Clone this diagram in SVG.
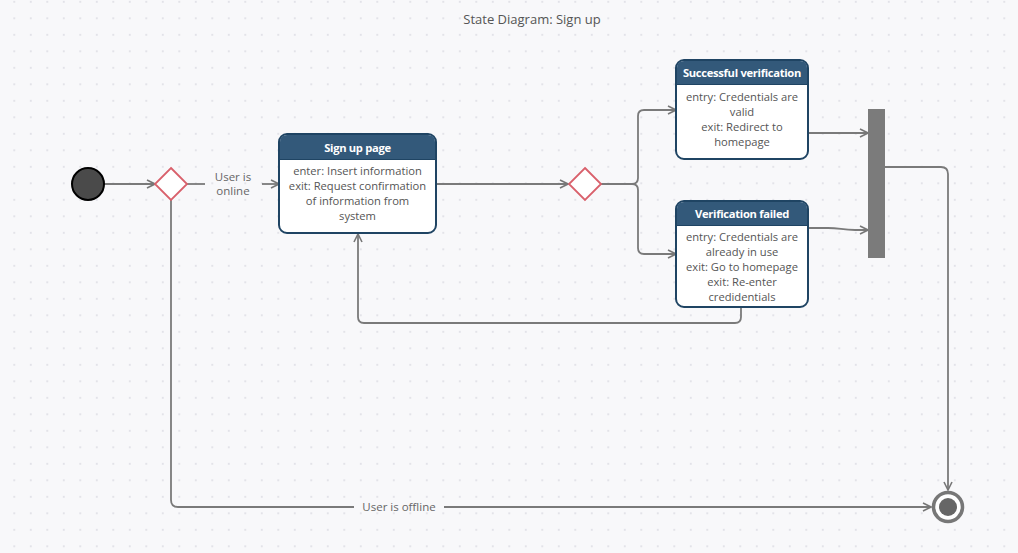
<svg xmlns="http://www.w3.org/2000/svg" width="1018" height="553" viewBox="0 0 1018 553">
<defs>
<pattern id="dots" x="14.3" y="1.8" width="16.5" height="16.5" patternUnits="userSpaceOnUse">
<circle cx="0" cy="0" r="1" fill="#dcdce3"/>
<circle cx="16.5" cy="0" r="1" fill="#dcdce3"/>
<circle cx="0" cy="16.5" r="1" fill="#dcdce3"/>
<circle cx="16.5" cy="16.5" r="1" fill="#dcdce3"/>
</pattern>
<marker id="arr" viewBox="0 0 10 10" refX="9" refY="5" markerWidth="10" markerHeight="10" markerUnits="userSpaceOnUse" orient="auto">
<path d="M1,1 L9,5 L1,9" fill="none" stroke="#777" stroke-width="1.6"/>
</marker>
<style>
.ln{fill:none;stroke:#7a7a7a;stroke-width:1.8}
.box{fill:#fff;stroke:#1f4463;stroke-width:2}
.hdr{fill:#33597a}
.ht{font-family:"Open Sans","Noto Sans",sans-serif;font-size:11.2px;font-weight:bold;letter-spacing:-0.3px;fill:#fff;text-anchor:middle}
.bt{font-family:"Open Sans","Noto Sans",sans-serif;font-size:11.2px;fill:#555;text-anchor:middle}
.lb{font-family:"Open Sans","Noto Sans",sans-serif;font-size:11.5px;fill:#666;text-anchor:middle}
.dia{fill:#fff;stroke:#d9606b;stroke-width:1.8}
</style>
</defs>
<rect width="1018" height="553" fill="#f8f8fa"/>
<rect width="1018" height="553" fill="url(#dots)"/>
<text x="532" y="24" font-family="'Open Sans','Noto Sans',sans-serif" font-size="13" fill="#555" text-anchor="middle">State Diagram: Sign up</text>

<g id="connectors">
<path class="ln" d="M104,184 H155" marker-end="url(#arr)"/>
<path class="ln" d="M187,184 H205"/>
<path class="ln" d="M262,184 H279" marker-end="url(#arr)"/>
<path class="ln" d="M436,184 H568" marker-end="url(#arr)"/>
<path class="ln" d="M601,184 H632 Q638,184 638,178 V116 Q638,110 644,110 H676" marker-end="url(#arr)"/>
<path class="ln" d="M632,184 Q638,184 638,190 V248 Q638,254 644,254 H676" marker-end="url(#arr)"/>
<path class="ln" d="M808,133 H868" marker-end="url(#arr)"/>
<path class="ln" d="M808,228 H828 C840,228 842,230 855,230 H868" marker-end="url(#arr)"/>
<path class="ln" d="M885,167 H941 Q948,167 948,174 V490" marker-end="url(#arr)"/>
<path class="ln" d="M741,307 V317 Q741,323 735,323 H364 Q358,323 358,317 V234" marker-end="url(#arr)"/>
<path class="ln" d="M171,200 V500 Q171,507 178,507 H354"/>
<path class="ln" d="M444,507 H931" marker-end="url(#arr)"/>
<text class="lb" x="233" y="181">User is</text>
<text class="lb" x="233" y="195">online</text>
<text class="lb" x="399" y="511">User is offline</text>
</g>

<g id="start">
<circle cx="88" cy="184" r="16" fill="#4a4a4a" stroke="#000" stroke-width="2"/>
</g>

<g id="decision1">
<polygon class="dia" points="171,168 187,184 171,200 155,184"/>
</g>

<g id="signup">
<rect class="box" x="279" y="134" width="157" height="99" rx="8"/>
<path class="hdr" d="M287,135 H428 Q435,135 435,142 V159 H280 V142 Q280,135 287,135 Z"/>
<line x1="280" y1="159.5" x2="435" y2="159.5" stroke="#1f4463" stroke-width="1"/>
<text class="ht" x="357.5" y="151.5">Sign up page</text>
<text class="bt" x="357.5" y="175">enter: Insert information</text>
<text class="bt" x="357.5" y="190">exit: Request confirmation</text>
<text class="bt" x="357.5" y="205">of information from</text>
<text class="bt" x="357.5" y="220">system</text>
</g>

<g id="decision2">
<polygon class="dia" points="585,168 601,184 585,200 569,184"/>
</g>

<g id="success">
<rect class="box" x="676" y="60" width="132" height="99" rx="8"/>
<path class="hdr" d="M684,61 H800 Q807,61 807,68 V84 H677 V68 Q677,61 684,61 Z"/>
<line x1="677" y1="84.5" x2="807" y2="84.5" stroke="#1f4463" stroke-width="1"/>
<text class="ht" x="742" y="76.5">Successful verification</text>
<text class="bt" x="742" y="101">entry: Credentials are</text>
<text class="bt" x="742" y="116">valid</text>
<text class="bt" x="742" y="131">exit: Redirect to</text>
<text class="bt" x="742" y="146">homepage</text>
</g>

<g id="failed">
<rect class="box" x="676" y="201" width="132" height="106" rx="8"/>
<path class="hdr" d="M684,202 H800 Q807,202 807,209 V225 H677 V209 Q677,202 684,202 Z"/>
<line x1="677" y1="225.5" x2="807" y2="225.5" stroke="#1f4463" stroke-width="1"/>
<text class="ht" x="742" y="217.5">Verification failed</text>
<text class="bt" x="742" y="241">entry: Credentials are</text>
<text class="bt" x="742" y="256">already in use</text>
<text class="bt" x="742" y="271">exit: Go to homepage</text>
<text class="bt" x="742" y="286">exit: Re-enter</text>
<text class="bt" x="742" y="301">credidentials</text>
</g>

<g id="join">
<rect x="868" y="109" width="17" height="149" fill="#7b7b7b"/>
</g>

<g id="end">
<circle cx="948" cy="507" r="14.5" fill="#fff" stroke="#777" stroke-width="3.5"/>
<circle cx="948" cy="507" r="9" fill="#666"/>
</g>
</svg>
